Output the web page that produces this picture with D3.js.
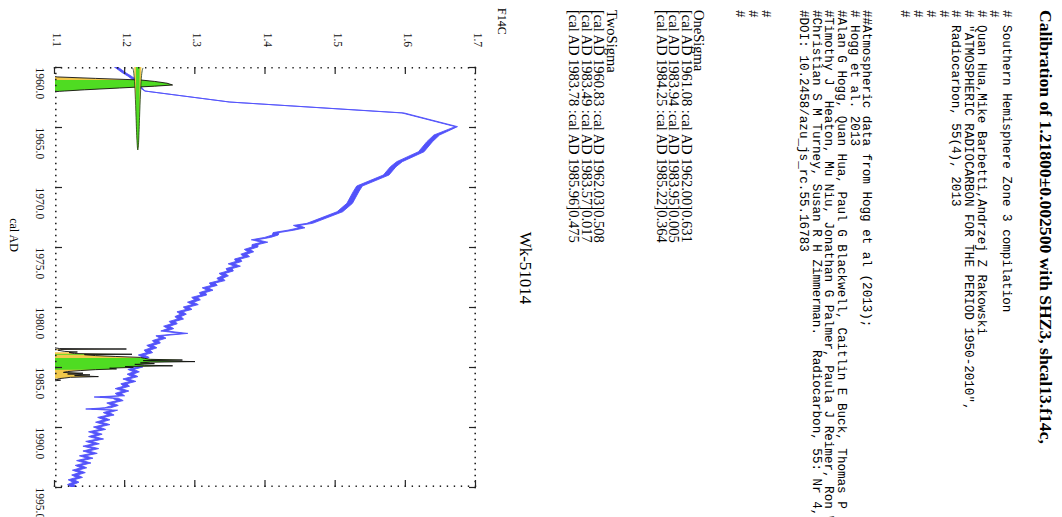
<!DOCTYPE html>
<html><head><meta charset="utf-8">
<script src="https://cdnjs.cloudflare.com/ajax/libs/d3/7.8.5/d3.min.js"></script>
<style>html,body{margin:0;padding:0;background:#fff;overflow:hidden}
text{white-space:pre}</style>
</head><body>
<svg id="chart" width="1062" height="517" xmlns="http://www.w3.org/2000/svg"></svg>
<script>
// ---------------- text content ----------------
const titleText = "Calibration of 1.21800\u00b10.002500 with SHZ3, shcal13.f14c,";
const headerLines = [
  "# Southern Hemisphere Zone 3 compilation",
  "#",
  "# Quan Hua,Mike Barbetti,Andrzej Z Rakowski",
  "# \"ATMOSPHERIC RADIOCARBON FOR THE PERIOD 1950-2010\",",
  "# Radiocarbon, 55(4), 2013",
  "#", "#", "#", "#",
  "", "",
  "##Atmospheric data from Hogg et al (2013);",
  "# Hogg et al. 2013",
  "#Alan G Hogg, Quan Hua, Paul G Blackwell, Caitlin E Buck, Thomas P Guilderson,",
  "#Timothy J  Heaton, Mu Niu, Jonathan G Palmer, Paula J Reimer, Ron W Reimer,",
  "#Christian S M Turney, Susan R H Zimmerman.  Radiocarbon, 55: Nr 4, 2013",
  "#DOI: 10.2458/azu_js_rc.55.16783",
  "", "",
  "#", "#", "#"
];
const sampleName = "Wk-51014";
const xAxisTitle = "cal AD";
const yAxisTitle = "F14C";

// ---------------- calibrated ranges ----------------
const oneSigmaFrom = [1961.08, 1983.94, 1984.25];
const oneSigmaTo   = [1962.00, 1983.95, 1985.22];
const oneSigmaProb = [0.631, 0.005, 0.364];
const twoSigmaFrom = [1960.83, 1983.49, 1983.78];
const twoSigmaTo   = [1962.03, 1983.57, 1985.96];
const twoSigmaProb = [0.508, 0.017, 0.475];

// ---------------- axis ticks ----------------
const yearTicks = [1960, 1965, 1970, 1975, 1980, 1985, 1990, 1995];
const f14cTicks = [1.1, 1.2, 1.3, 1.4, 1.5, 1.6, 1.7];

// ---------------- calibration curve (SHZ3) ----------------
const calYear = [
 1959.75,1960.00,1960.25,1960.50,1960.75,1961.00,1961.50,1962.00,1962.92,1963.83,
 1964.97,1965.67,1966.22,1967.06,1967.89,1968.31,1969.00,1969.92,1970.39,1971.36,
 1972.06,1973.03,
 1973.2,1973.4,1973.6,1973.8,1974.0,1974.2,1974.4,1974.6,1974.8,
 1975.0,1975.2,1975.4,1975.6,1975.8,1976.0,1976.2,1976.4,1976.6,1976.8,
 1977.0,1977.2,1977.4,1977.6,1977.8,1978.0,1978.2,1978.4,1978.6,1978.8,
 1979.0,1979.2,1979.4,1979.6,1979.8,1980.0,1980.2,1980.4,1980.6,1980.8,
 1981.0,1981.2,1981.4,1981.6,1981.8,1982.0,1982.2,1982.4,1982.6,1982.8,
 1983.0,1983.2,1983.4,1983.6,1983.8,1984.0,1984.2,1984.4,1984.6,1984.8,
 1985.0,1985.2,1985.4,1985.6,1985.8,1986.0,1986.2,1986.4,1986.6,1986.8,
 1987.0,1987.2,1987.4,1987.5,1987.6,1987.8,1988.0,1988.2,1988.4,1988.5,1988.6,1988.8,
 1989.0,1989.2,1989.4,1989.6,1989.8,1990.0,1990.2,1990.4,1990.6,1990.8,
 1991.0,1991.2,1991.4,1991.6,1991.8,1992.0,1992.2,1992.4,1992.6,1992.8,
 1993.0,1993.2,1993.4,1993.6,1993.8,1994.0,1994.2,1994.4,1994.6,1994.8,1995.0
];
const calF14C = [
 1.181,1.187,1.193,1.199,1.206,1.212,1.218,1.228,1.349,1.596,
 1.672,1.644,1.634,1.622,1.591,1.582,1.572,1.534,1.529,1.520,
 1.506,1.463,
 1.444,1.452,1.436,1.415,1.414,1.403,1.384,1.399,1.385,
 1.385,1.374,1.379,1.369,1.373,1.360,1.362,1.351,1.360,1.348,
 1.350,1.338,1.343,1.335,1.338,1.324,1.327,1.314,1.321,1.310,
 1.312,1.299,1.303,1.293,1.300,1.287,1.291,1.278,1.283,1.275,
 1.279,1.267,1.270,1.259,1.265,1.255,1.285,1.248,1.254,1.243,
 1.246,1.235,1.241,1.231,1.235,1.223,1.230,1.219,1.223,1.215,
 1.221,1.208,1.216,1.207,1.214,1.201,1.211,1.198,1.202,1.190,
 1.201,1.190,1.195,1.160,1.186,1.193,1.178,1.186,1.175,1.148,1.185,1.173,
 1.180,1.165,1.174,1.162,1.174,1.159,1.168,1.152,1.163,1.152,
 1.165,1.148,1.159,1.144,1.158,1.144,1.156,1.139,1.150,1.135,
 1.147,1.133,1.141,1.129,1.139,1.128,1.135,1.123,1.130,1.122,1.127
];
// curve 1-sigma half width by period
const calSigmaFrom = [1959.0, 1961.9, 1963.8, 1965.0, 1973.1];
const calSigmaTo   = [1961.9, 1963.8, 1965.0, 1973.1, 1996.0];
const calSigmaVal  = [0.0024, 0.0003, 0.0016, 0.0040, 0.0042];

// ---------------- calibrated probability distribution ----------------
const distYear = [
 1960.80,1960.83,1960.95,1961.08,1961.20,1961.35,1961.50,1961.60,1961.75,1961.90,1962.00,1962.03,1962.06,
 null,
 1983.40,1983.46,1983.50,1983.54,1983.60,1983.70,1983.75,1983.80,1983.88,1983.94,1983.97,1984.05,
 1984.12,1984.20,1984.28,1984.36,1984.42,1984.47,1984.55,1984.60,1984.66,1984.72,1984.78,1984.85,
 1984.90,1984.96,1985.03,1985.10,1985.16,1985.22,1985.30,1985.38,1985.45,1985.52,1985.58,1985.66,
 1985.72,1985.80,1985.86,1985.92,1985.97,1986.05,1986.10,1986.15
];
const distProb = [
 0,0.02,0.29,0.61,0.71,0.80,0.84,0.71,0.46,0.21,0.07,0.03,0,
 null,
 0,0.03,0.51,0.04,0.02,0.07,0.16,0.10,0.14,0.55,0.21,0.29,
 0.43,0.61,0.64,0.68,0.91,0.63,1.00,0.68,0.61,0.71,0.57,0.64,
 0.84,0.50,0.56,0.39,0.44,0.29,0.18,0.09,0.06,0.20,0.09,0.25,
 0.14,0.31,0.11,0.07,0.03,0.01,0.04,0
];

// ---------------- measurement (F14C 1.218 +/- 0.0025) ----------------
const measF = [1.2105,1.2118,1.2130,1.2143,1.2155,1.2168,1.2180,1.2193,1.2205,1.2218,1.2230,1.2243,1.2255];
const measP = [0.011,0.044,0.135,0.325,0.607,0.882,1.000,0.882,0.607,0.325,0.135,0.044,0.011];
const measOneSigma = [1.2155, 1.2205];
const measTwoSigma = [1.2130, 1.2230];

// ---------------- colours / fonts ----------------
const BLUE = "#5252fa", GREEN = "#4fdc22", YELLOW = "#f0c84a";
const SERIF = "'Liberation Serif','Times New Roman',serif";
const MONO = "'Liberation Mono','Courier New',monospace";

// ---------------- drawing ----------------
const W = 1062, H = 517;
const svg = d3.select("#chart");
// the page is drawn in portrait (u across, v down) and turned a quarter clockwise
const root = svg.append("g").attr("transform", `translate(${W},0) rotate(90)`);

const x = d3.scaleLinear().domain([1960, 1995]).range([67, 487]);
const y = d3.scaleLinear().domain([1.1, 1.7]).range([1007, 586]);
const prob = d3.scaleLinear().domain([0, 1]).range([y(1.1), y(1.1) - 140]);
const measLen = d3.scaleLinear().domain([0, 1]).range([x(1960), x(1960) + 83]);

const defs = svg.append("defs");
defs.append("clipPath").attr("id", "plotClip").append("rect")
  .attr("x", x(1960)).attr("y", y(1.7)).attr("width", x(1995) - x(1960)).attr("height", y(1.1) - y(1.7));
function rangeClip(id, from, to) {
  const cp = defs.append("clipPath").attr("id", id);
  from.forEach((a, i) => cp.append("rect").attr("x", x(a)).attr("y", 0)
    .attr("width", Math.max(0.6, x(to[i]) - x(a))).attr("height", 1062));
}
rangeClip("one", oneSigmaFrom, oneSigmaTo);
rangeClip("two", twoSigmaFrom, twoSigmaTo);
function fClip(id, r) {
  defs.append("clipPath").attr("id", id).append("rect")
    .attr("x", 0).attr("width", 517).attr("y", y(r[1])).attr("height", y(r[0]) - y(r[1]));
}
fClip("mone", measOneSigma);
fClip("mtwo", measTwoSigma);

// calibration curve band
function sigmaAt(yr) {
  for (let i = 0; i < calSigmaFrom.length; i++) if (yr >= calSigmaFrom[i] && yr < calSigmaTo[i]) return calSigmaVal[i];
  return 0.003;
}
const cal = calYear.map((yr, i) => ({ yr, f: calF14C[i], s: sigmaAt(yr) }));
const plot = root.append("g").attr("clip-path", "url(#plotClip)");
plot.append("path").datum(cal)
  .attr("d", d3.area().x(d => x(d.yr)).y0(d => y(d.f - d.s)).y1(d => y(d.f + d.s)))
  .attr("fill", BLUE).attr("stroke", BLUE).attr("stroke-width", 0.9).attr("stroke-linejoin", "round");

// calibrated distribution
const dist = distYear.map((yr, i) => ({ yr, p: distProb[i] }));
const distArea = d3.area().defined(d => d.yr !== null)
  .x(d => x(d.yr)).y0(prob(0)).y1(d => prob(d.p));
const distLine = d3.line().defined(d => d.yr !== null).x(d => x(d.yr)).y(d => prob(d.p));
plot.append("path").datum(dist).attr("d", distArea).attr("fill", YELLOW).attr("clip-path", "url(#two)");
plot.append("path").datum(dist).attr("d", distArea).attr("fill", GREEN).attr("clip-path", "url(#one)");
plot.append("path").datum(dist).attr("d", distLine).attr("fill", "none").attr("stroke", "#111").attr("stroke-width", 0.9);

// measurement gaussian on the F14C axis
const meas = measF.map((f, i) => ({ f, p: measP[i] }));
const measArea = d3.area().curve(d3.curveMonotoneY).y(d => y(d.f)).x0(measLen(0)).x1(d => measLen(d.p));
const measLine = d3.line().curve(d3.curveMonotoneY).y(d => y(d.f)).x(d => measLen(d.p));
plot.append("path").datum(meas).attr("d", measArea).attr("fill", YELLOW).attr("clip-path", "url(#mtwo)");
plot.append("path").datum(meas).attr("d", measArea).attr("fill", GREEN).attr("clip-path", "url(#mone)");
plot.append("path").datum(meas).attr("d", measLine).attr("fill", "none").attr("stroke", "#1a3a10").attr("stroke-width", 0.8);

// axes (dotted minor ticks + inward major ticks)
const yearMinor = d3.range(1960, 1995.01, 0.5);
const f14cMinor = d3.range(110, 170.1, 1).map(v => v / 100);
function styleAxis(g) { g.select(".domain").remove(); g.selectAll("line").attr("stroke", "#222"); }

const axB = root.append("g").attr("transform", `translate(0,${y(1.1)})`);
axB.append("g").call(d3.axisBottom(x).tickValues(yearMinor).tickSize(-1.6).tickFormat("")).call(styleAxis)
  .selectAll("line").attr("stroke-width", 1.4);
const axBM = axB.append("g").call(d3.axisBottom(x).tickValues(yearTicks).tickSize(-7).tickFormat(d3.format(".1f")))
  .call(styleAxis);
axBM.selectAll("line").attr("stroke-width", 1.2);
axBM.selectAll("text").attr("text-anchor", "start").attr("y", 19).attr("dy", null)
  .attr("font-family", SERIF).attr("font-size", 11.5).attr("fill", "#111");

const axT = root.append("g").attr("transform", `translate(0,${y(1.7)})`);
axT.append("g").call(d3.axisTop(x).tickValues(yearMinor).tickSize(-1.6).tickFormat("")).call(styleAxis)
  .selectAll("line").attr("stroke-width", 1.4);
axT.append("g").call(d3.axisTop(x).tickValues(yearTicks).tickSize(-7).tickFormat("")).call(styleAxis)
  .selectAll("line").attr("stroke-width", 1.2);

const axL = root.append("g").attr("transform", `translate(${x(1960)},0)`);
axL.append("g").call(d3.axisLeft(y).tickValues(f14cMinor).tickSize(-1.6).tickFormat("")).call(styleAxis)
  .selectAll("line").attr("stroke-width", 1.4);
const axLM = axL.append("g").call(d3.axisLeft(y).tickValues(f14cTicks).tickSize(-7).tickFormat(d3.format(".1f")))
  .call(styleAxis);
axLM.selectAll("line").attr("stroke-width", 1.2);
axLM.selectAll("text").attr("x", -20).attr("dy", null).attr("y", 1.5).attr("text-anchor", "end")
  .attr("font-family", SERIF).attr("font-size", 11.5).attr("fill", "#111");

const axR = root.append("g").attr("transform", `translate(${x(1995)},0)`);
axR.append("g").call(d3.axisRight(y).tickValues(f14cMinor).tickSize(-1.6).tickFormat("")).call(styleAxis)
  .selectAll("line").attr("stroke-width", 1.4);
axR.append("g").call(d3.axisRight(y).tickValues(f14cTicks).tickSize(-7).tickFormat("")).call(styleAxis)
  .selectAll("line").attr("stroke-width", 1.2);

// axis titles and sample name
root.append("text").attr("x", 235).attr("y", 1052).attr("text-anchor", "middle")
  .attr("font-family", SERIF).attr("font-size", 12).text(xAxisTitle);
root.append("text").attr("x", 8).attr("y", 564)
  .attr("font-family", SERIF).attr("font-size", 12).text(yAxisTitle);
root.append("text").attr("x", 268).attr("y", 542).attr("text-anchor", "middle")
  .attr("font-family", SERIF).attr("font-size", 17).text(sampleName);

// title and header comment lines
root.append("text").attr("x", 10).attr("y", 22)
  .attr("font-family", SERIF).attr("font-weight", "bold").attr("font-size", 17.6).text(titleText);
root.append("g").selectAll("text").data(headerLines).join("text")
  .attr("x", 10).attr("y", (d, i) => 59 + i * 12.7)
  .attr("font-family", MONO).attr("font-size", 12.6).text(d => d);

// sigma ranges
const fmtRange = (a, b, p) => `[cal AD ${a.toFixed(2)} :cal AD ${b.toFixed(2)}]${p.toFixed(3)}`;
const sigmaText = ["OneSigma"]
  .concat(oneSigmaFrom.map((a, i) => fmtRange(a, oneSigmaTo[i], oneSigmaProb[i])))
  .concat(["", "", ""])
  .concat(["TwoSigma"])
  .concat(twoSigmaFrom.map((a, i) => fmtRange(a, twoSigmaTo[i], twoSigmaProb[i])));
root.append("g").selectAll("text").data(sigmaText).join("text")
  .attr("x", 10).attr("y", (d, i) => 368 + i * 12.5)
  .attr("font-family", SERIF).attr("font-size", 14.5).text(d => d);
</script>
</body></html>
